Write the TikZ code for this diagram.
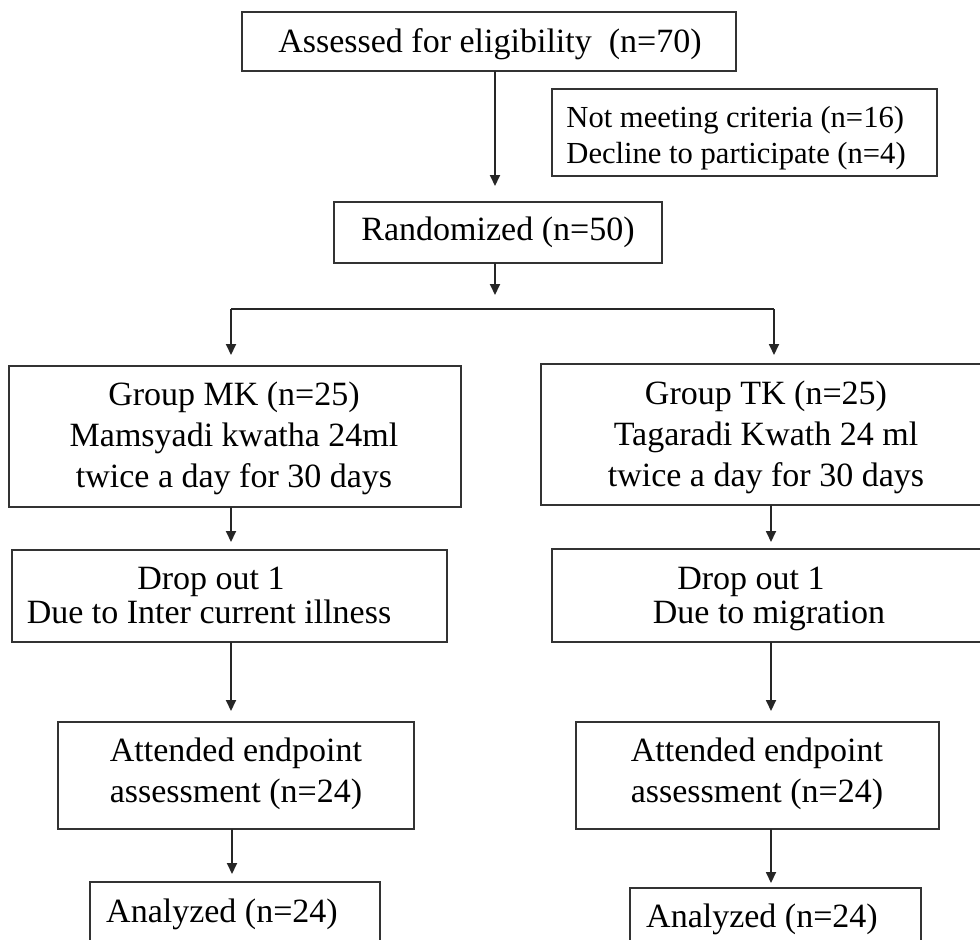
\documentclass[tikz,border=0pt]{standalone}
\usepackage{fontspec}
\setmainfont{Liberation Serif}
\usetikzlibrary{arrows.meta}
\begin{document}
\begin{tikzpicture}[x=0.5pt,y=-0.5pt,
  boxd/.style={draw=black!80, line width=1pt, fill=none, inner sep=0pt, outer sep=0pt, anchor=north west},
  arr/.style={draw=black!85, line width=0.9pt, -{Triangle[length=5.5pt,width=5pt]}},
  ln/.style={draw=black!85, line width=0.9pt},
  lbl/.style={inner sep=0pt, anchor=base, align=center, font=\fontsize{17pt}{20.5pt}\selectfont},
  lbll/.style={inner sep=0pt, anchor=base west, align=left, font=\fontsize{15.3pt}{18pt}\selectfont}]
\useasboundingbox (0,0) rectangle (980,939);
\clip (0,0) rectangle (980,939);
% boxes
\node[boxd, minimum width=247pt, minimum height=29.5pt] (A) at (242,12) {};
\node[boxd, minimum width=192.5pt, minimum height=43.5pt] (N) at (552,89) {};
\node[boxd, minimum width=164pt, minimum height=30.5pt] (R) at (334,202) {};
\node[boxd, minimum width=226pt, minimum height=70.5pt] (MK) at (9,366) {};
\node[boxd, minimum width=227pt, minimum height=70.5pt] (TK) at (541,364) {};
\node[boxd, minimum width=217.5pt, minimum height=46pt] (DL) at (12,550) {};
\node[boxd, minimum width=221.5pt, minimum height=46.5pt] (DR) at (552,549) {};
\node[boxd, minimum width=178pt, minimum height=53.5pt] (AL) at (58,722) {};
\node[boxd, minimum width=181.5pt, minimum height=53.5pt] (AR) at (576,722) {};
\node[boxd, minimum width=145pt, minimum height=39pt] (ZL) at (90,882) {};
\node[boxd, minimum width=145.5pt, minimum height=36pt] (ZR) at (630,888) {};
% texts
\node[lbl] (tA) at (490,52) {Assessed for eligibility\ \ (n=70)};
\node[lbll] (tN) at (566,163) {Not meeting\ criteria (n=16)\\Decline\ to participate\ (n=4)};
\node[lbl] (tR) at (498,240) {Randomized (n=50)};
\node[lbl] (tMK) at (234,487) {Group MK (n=25)\\Mamsyadi kwatha 24ml\\twice a day for 30 days};
\node[lbl] (tTK) at (766,486) {Group TK (n=25)\\Tagaradi Kwath 24 ml\\twice a day for 30 days};
\node[lbl] (tDL1) at (211,589) {Drop out 1};
\node[lbl] (tDL2) at (209,623) {Due to Inter current illness};
\node[lbl] (tDR1) at (751,589) {Drop out 1};
\node[lbl] (tDR2) at (769,623) {Due to migration};
\node[lbl] (tAL) at (236,802) {Attended endpoint\\assessment (n=24)};
\node[lbl] (tAR) at (757,802) {Attended endpoint\\assessment (n=24)};
\node[lbl] (tZL) at (222,922) {Analyzed (n=24)};
\node[lbl] (tZR) at (762,927) {Analyzed (n=24)};
% connector columns
\coordinate (xc) at (495,0);
\coordinate (xl) at (231,0);
\coordinate (xll) at (232,0);
\coordinate (xr) at (774,0);
\coordinate (xrr) at (771,0);
\coordinate (split) at (495,309);
\coordinate (splitL) at (231,309);
\coordinate (splitR) at (774,309);
% connectors
\draw[arr, shorten >=8pt] (xc |- A.south) -- (xc |- R.north);
\draw[arr, shorten >=7pt] (xc |- R.south) -- (split);
\draw[ln] (splitL) -- (splitR);
\draw[arr, shorten >=5.5pt] (splitL) -- (xl |- MK.north);
\draw[arr, shorten >=4.5pt] (splitR) -- (xr |- TK.north);
\draw[arr, shorten >=4pt] (xl |- MK.south) -- (xl |- DL.north);
\draw[arr, shorten >=3.5pt] (xrr |- TK.south) -- (xrr |- DR.north);
\draw[arr, shorten >=5.5pt] (xl |- DL.south) -- (xl |- AL.north);
\draw[arr, shorten >=5.5pt] (xrr |- DR.south) -- (xrr |- AR.north);
\draw[arr, shorten >=4pt] (xll |- AL.south) -- (xll |- ZL.north);
\draw[arr, shorten >=2.5pt] (xrr |- AR.south) -- (xrr |- ZR.north);
\end{tikzpicture}
\end{document}
